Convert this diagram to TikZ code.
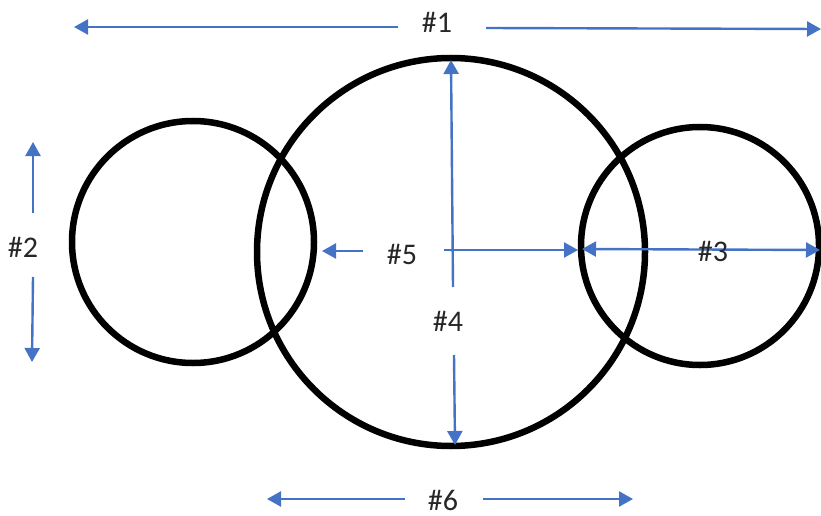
\documentclass[tikz,border=0pt]{standalone}
\usepackage{fontspec}
\setmainfont{Carlito}
\usetikzlibrary{arrows.meta}
\definecolor{arrowblue}{RGB}{68,114,196}
\begin{document}
\begin{tikzpicture}[x=1pt,y=-1pt,
  ring/.style={draw=black,line width=6.5pt,circle,inner sep=0pt},
  dimarrow/.style={draw=arrowblue,line width=2.4pt,-{Triangle[length=14pt,width=15pt]}},
  dimboth/.style={draw=arrowblue,line width=2.4pt,{Triangle[length=14pt,width=15pt]}-{Triangle[length=14pt,width=15pt]}},
  lbl/.style={font=\fontsize{30}{32}\selectfont,text=black!85,inner sep=0pt}]
\useasboundingbox (0,0) rectangle (821,516);
% circles
\node[ring,minimum size=242pt] (leftc) at (193,242) {};
\node[ring,minimum size=388pt] (bigc) at (451,252) {};
\node[ring,minimum size=238pt] (rightc) at (700,246) {};
% arrow end points
\coordinate (a1l) at (74,27);
\coordinate (a1ls) at (398,27);
\coordinate (a1rs) at (486,28);
\coordinate (a1r) at (821,29);
\coordinate (a2us) at (33,213);
\coordinate (a2u) at (33,142);
\coordinate (a2ds) at (33,277);
\coordinate (a2d) at (32,362);
\coordinate (a3l) at (582,249);
\coordinate (a3r) at (820,250);
\coordinate (a4us) at (453,287);
\coordinate (a4u) at (451,60);
\coordinate (a4ds) at (454,355);
\coordinate (a4d) at (455,445);
\coordinate (a5ls) at (363,251);
\coordinate (a5l) at (322,251);
\coordinate (a5rs) at (444,250);
\coordinate (a5r) at (578,250);
\coordinate (a6ls) at (405,499);
\coordinate (a6l) at (267,499);
\coordinate (a6rs) at (483,499);
\coordinate (a6r) at (633,499);
% arrows
\draw[dimarrow] (a1ls) -- (a1l);
\draw[dimarrow] (a1rs) -- (a1r);
\draw[dimarrow] (a2us) -- (a2u);
\draw[dimarrow] (a2ds) -- (a2d);
\draw[dimboth] (a3l) -- (a3r);
\draw[dimarrow] (a4us) -- (a4u);
\draw[dimarrow] (a4ds) -- (a4d);
\draw[dimarrow] (a5ls) -- (a5l);
\draw[dimarrow] (a5rs) -- (a5r);
\draw[dimarrow] (a6ls) -- (a6l);
\draw[dimarrow] (a6rs) -- (a6r);
% labels
\node[lbl] (l1) at (437,22) {\#1};
\node[lbl] (l2) at (23,247) {\#2};
\node[lbl] (l3) at (713,251) {\#3};
\node[lbl] (l4) at (448,321) {\#4};
\node[lbl] (l5) at (402,254) {\#5};
\node[lbl] (l6) at (443,500) {\#6};
\end{tikzpicture}
\end{document}
